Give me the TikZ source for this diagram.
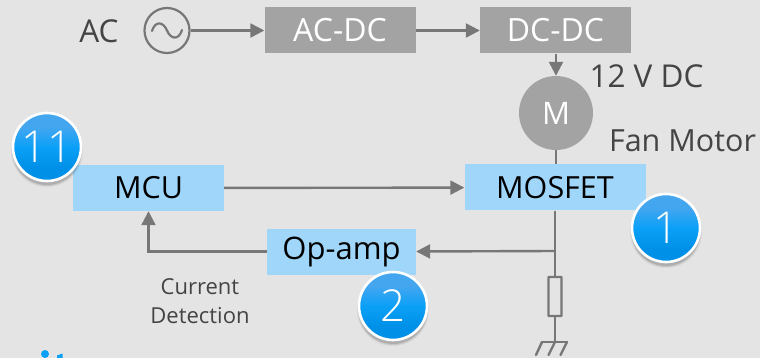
\documentclass[tikz,border=0pt]{standalone}
\usepackage{fontspec}
\setmainfont{Open Sans}
\newfontfamily\lightf{Open Sans Light}
\usetikzlibrary{arrows.meta,shadings}
\definecolor{bg}{HTML}{E4E4E4}
\definecolor{ln}{HTML}{777777}
\definecolor{gbox}{HTML}{A3A3A3}
\definecolor{bbox}{HTML}{9FD6FA}
\definecolor{dk}{HTML}{444444}
\definecolor{btop}{HTML}{45A6F0}
\definecolor{bmid}{HTML}{0BA0F7}
\definecolor{bbot}{HTML}{0090E8}
\pgfdeclareverticalshading{badgeshade}{100bp}{color(0bp)=(bbot); color(35bp)=(bbot); color(50bp)=(bmid); color(65bp)=(btop); color(100bp)=(btop)}
\newcommand{\fs}[1]{\fontsize{#1}{#1}\selectfont}
\tikzset{
  x=1pt,y=-1pt,
  wire/.style={draw=ln,line width=2.4pt},
  arr/.style={wire,-{Triangle[length=14pt,width=14pt]}},
  gray box/.style={fill=gbox,minimum width=151pt,minimum height=46pt,inner sep=0pt,text=white,font=\fs{32}},
  blue box/.style={fill=bbox,minimum height=46pt,inner sep=0pt,text=black,font=\fs{30.5}},
  lbl/.style={inner sep=0pt,text=dk,font=\fs{31.5}},
  badge/.style={circle,minimum size=68pt,inner sep=0pt,draw=white,line width=2.6pt,shading=badgeshade,text=white,font=\lightf\fs{44}},
}
\newcommand{\badgeshadow}[2]{%
  \foreach \r/\o in {36/0.05,35/0.08,34/0.12}{%
    \fill[black,opacity=\o] (#1,#2+4) circle[radius=\r];}}
\begin{document}
\begin{tikzpicture}
\useasboundingbox (0,0) rectangle (760,358);
\clip (0,0) rectangle (760,358);
\fill[bg] (0,0) rectangle (760,358);
% cut-off fragment at the lower edge
\fill[bmid] (45,354) circle[radius=4];
\fill[bmid] (57,355.5) -- (62.5,353.5) -- (62.5,358) -- (57,358) -- cycle;

\node[gray box] (acdc) at (340,30.5) {AC-DC};
\node[gray box] (dcdc) at (555.5,30.5) {DC-DC};
\node[circle,minimum size=74pt,inner sep=0pt,fill=gbox,text=white,font=\fs{31}] (m) at (556,113) {M};
\node[blue box,minimum width=151pt] (mcu) at (148.5,188) {MCU};
\node[blue box,minimum width=181pt] (mos) at (555,187.5) {MOSFET};
\node[blue box,minimum width=149pt,font=\fs{31}] (op) at (341.5,251.5) {Op-amp};
\node[circle,minimum size=45pt,inner sep=0pt,draw=ln,line width=2.2pt] (ac) at (167,30.5) {};
\draw[ln,line width=2.2pt,line cap=round] (152,31) .. controls (155,21) and (163,21) .. (167,30.5) .. controls (171,40) and (179,40) .. (182,30);
\node[lbl] at (99,31) {AC};
\node[lbl] at (646.5,76.5) {12 V DC};
\node[lbl,font=\fs{30.5}] at (682.5,141) {Fan Motor};
\node[lbl,font=\fs{22}] at (200,287) {Current};
\node[lbl,font=\fs{22}] at (200,316) {Detection};

\coordinate (junc) at (555,251);
\coordinate (gnd) at (555,342);
\node[draw=ln,line width=2.2pt,rounded corners=0.5pt,minimum width=13pt,minimum height=39pt,inner sep=0pt] (res) at (555,296.5) {};

\draw[arr] (ac) -- (acdc);
\draw[arr] (acdc) -- (dcdc);
\draw[arr] (dcdc.south -| m.north) -- (m.north);
\draw[wire] (m.south) -- (m.south |- mos.north);
\draw[arr] (mcu) -- (mos);
\draw[wire] (mos.south) -- (res.north);
\draw[arr] (junc) -- (op.east);
\draw[arr] (op.west) -| (mcu.south);
\draw[wire] (res.south) -- (gnd);
\coordinate (g1) at (542,342);
\coordinate (g2) at (567,342);
\draw[wire,line cap=round] (g1) -- (g2);
\draw[wire,line cap=round] (g1) -- (536,355);
\draw[wire,line cap=round] (gnd) -- (548.5,355);
\draw[wire,line cap=round] (g2) -- (560.5,355);

\badgeshadow{47}{147}
\node[badge] (b11) at (47,147) {11};
\badgeshadow{666}{228}
\node[badge] (b1) at (666,228) {1};
\badgeshadow{393}{306}
\node[badge] (b2) at (393,306) {2};
\end{tikzpicture}
\end{document}
